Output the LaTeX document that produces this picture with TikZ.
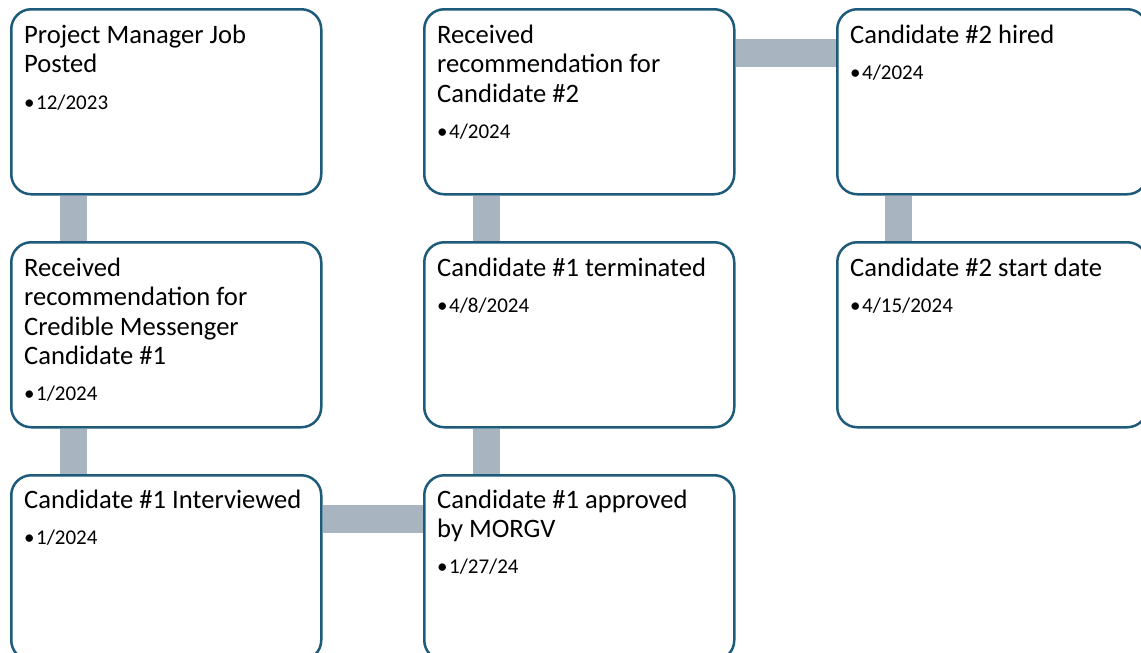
\documentclass[tikz,border=0pt]{standalone}
\usepackage{fontspec}
\setmainfont{Carlito}
\usetikzlibrary{backgrounds}
\definecolor{boxline}{RGB}{30,90,122}
\definecolor{bargray}{RGB}{168,180,192}
\newcommand{\ttl}[1]{\parbox[t]{295pt}{\raggedright\fontsize{26.6}{29.5}\selectfont #1}}
\newcommand{\bul}[1]{{\fontsize{21}{24}\selectfont\makebox[12pt][l]{•}#1}}
\begin{document}
\begin{tikzpicture}[x=1pt,y=-1pt,
  card/.style={draw=boxline, line width=2.5pt, rounded corners=20pt, fill=white,
    minimum width=310pt, minimum height=185pt, inner sep=0pt, anchor=north west},
  ttlnode/.style={anchor=base west, inner sep=0pt, text=black},
  bulnode/.style={anchor=base west, inner sep=0pt, text=black},
  bar/.style={draw=bargray, line width=27.5pt, line cap=butt}]
\useasboundingbox (0,0) rectangle (1141,653);
\clip (0,0) rectangle (1141,653);
% boxes
\node[card] (b11) at (10,8) {};
\node[card] (b12) at (10,241) {};
\node[card] (b13) at (10,474) {};
\node[card] (b21) at (423,8) {};
\node[card] (b22) at (423,241) {};
\node[card] (b23) at (423,474) {};
\node[card] (b31) at (836,8) {};
\node[card] (b32) at (836,241) {};
% connectors
\begin{pgfonlayer}{background}
\draw[bar] ([xshift=63.5pt]b11.south west) -- ([xshift=63.5pt]b12.north west);
\draw[bar] ([xshift=63.5pt]b12.south west) -- ([xshift=63.5pt]b13.north west);
\draw[bar] ([yshift=-45pt]b13.north east) -- ([yshift=-45pt]b23.north west);
\draw[bar] ([xshift=63.5pt]b23.north west) -- ([xshift=63.5pt]b22.south west);
\draw[bar] ([xshift=63.5pt]b22.north west) -- ([xshift=63.5pt]b21.south west);
\draw[bar] ([yshift=-45pt]b21.north east) -- ([yshift=-45pt]b31.north west);
\draw[bar] ([xshift=62.5pt]b31.south west) -- ([xshift=62.5pt]b32.north west);
\end{pgfonlayer}
% texts
\node[ttlnode] (t11) at (24,43) {\ttl{Project Manager Job\\Posted}};
\node[bulnode] (d11) at (24,109) {\bul{12/2023}};
\node[ttlnode] (t12) at (24,276) {\ttl{Received\\recommendation for\\Credible Messenger\\Candidate \#1}};
\node[bulnode] (d12) at (24,400.5) {\bul{1/2024}};
\node[ttlnode] (t13) at (24,508) {\ttl{Candidate \#1 Interviewed}};
\node[bulnode] (d13) at (24,544) {\bul{1/2024}};
\node[ttlnode] (t21) at (437,43) {\ttl{Received\\recommendation for\\Candidate \#2}};
\node[bulnode] (d21) at (437,138) {\bul{4/2024}};
\node[ttlnode] (t22) at (437,276) {\ttl{Candidate \#1 terminated}};
\node[bulnode] (d22) at (437,312) {\bul{4/8/2024}};
\node[ttlnode] (t23) at (437,508) {\ttl{Candidate \#1 approved\\by MORGV}};
\node[bulnode] (d23) at (437,573.5) {\bul{1/27/24}};
\node[ttlnode] (t31) at (850,43) {\ttl{Candidate \#2 hired}};
\node[bulnode] (d31) at (850,79) {\bul{4/2024}};
\node[ttlnode] (t32) at (850,276) {\ttl{Candidate \#2 start date}};
\node[bulnode] (d32) at (850,312) {\bul{4/15/2024}};
\end{tikzpicture}
\end{document}
